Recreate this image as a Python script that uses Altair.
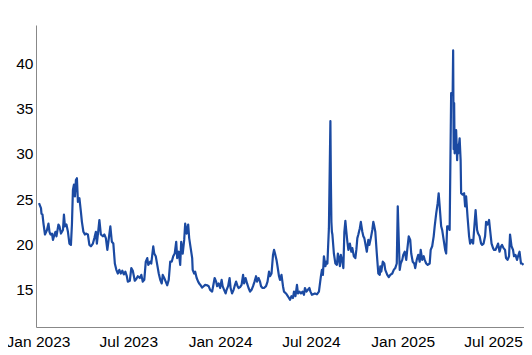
import altair as alt
import pandas as pd

dates = [
    "2022-12-30", "2023-01-03", "2023-01-04", "2023-01-06", "2023-01-08", "2023-01-11", "2023-01-15", "2023-01-18",
    "2023-01-20", "2023-01-22", "2023-01-25", "2023-01-27", "2023-01-30", "2023-02-01", "2023-02-03", "2023-02-07",
    "2023-02-09", "2023-02-12", "2023-02-16", "2023-02-18", "2023-02-20", "2023-02-23", "2023-02-26", "2023-03-01",
    "2023-03-04", "2023-03-06", "2023-03-08", "2023-03-10", "2023-03-12", "2023-03-14", "2023-03-16", "2023-03-18",
    "2023-03-21", "2023-03-24", "2023-03-26", "2023-03-29", "2023-04-01", "2023-04-03", "2023-04-07", "2023-04-10",
    "2023-04-13", "2023-04-17", "2023-04-20", "2023-04-23", "2023-04-25", "2023-04-28", "2023-04-30", "2023-05-03",
    "2023-05-07", "2023-05-10", "2023-05-13", "2023-05-16", "2023-05-19", "2023-05-22", "2023-05-25", "2023-05-28",
    "2023-05-31", "2023-06-03", "2023-06-06", "2023-06-09", "2023-06-12", "2023-06-15", "2023-06-18", "2023-06-21",
    "2023-06-24", "2023-06-26", "2023-06-30", "2023-07-03", "2023-07-06", "2023-07-10", "2023-07-13", "2023-07-16",
    "2023-07-20", "2023-07-23", "2023-07-26", "2023-07-29", "2023-08-01", "2023-08-04", "2023-08-06", "2023-08-10",
    "2023-08-12", "2023-08-16", "2023-08-18", "2023-08-21", "2023-08-24", "2023-08-27", "2023-08-30", "2023-09-02",
    "2023-09-04", "2023-09-07", "2023-09-10", "2023-09-13", "2023-09-16", "2023-09-19", "2023-09-22", "2023-09-25",
    "2023-09-28", "2023-10-01", "2023-10-03", "2023-10-06", "2023-10-09", "2023-10-11", "2023-10-14", "2023-10-17",
    "2023-10-19", "2023-10-22", "2023-10-25", "2023-10-27", "2023-10-30", "2023-11-02", "2023-11-03", "2023-11-06",
    "2023-11-08", "2023-11-11", "2023-11-14", "2023-11-16", "2023-11-19", "2023-11-22", "2023-11-25", "2023-11-28",
    "2023-12-02", "2023-12-05", "2023-12-08", "2023-12-12", "2023-12-14", "2023-12-17", "2023-12-20", "2023-12-22",
    "2023-12-25", "2023-12-28", "2023-12-31", "2024-01-02", "2024-01-05", "2024-01-08", "2024-01-10", "2024-01-13",
    "2024-01-16", "2024-01-18", "2024-01-21", "2024-01-24", "2024-01-26", "2024-01-29", "2024-02-01", "2024-02-03",
    "2024-02-06", "2024-02-09", "2024-02-12", "2024-02-14", "2024-02-17", "2024-02-20", "2024-02-23", "2024-02-26",
    "2024-02-29", "2024-03-03", "2024-03-06", "2024-03-09", "2024-03-11", "2024-03-14", "2024-03-17", "2024-03-19",
    "2024-03-22", "2024-03-25", "2024-03-29", "2024-04-01", "2024-04-04", "2024-04-06", "2024-04-09", "2024-04-12",
    "2024-04-14", "2024-04-16", "2024-04-19", "2024-04-21", "2024-04-24", "2024-04-26", "2024-04-29", "2024-05-02",
    "2024-05-04", "2024-05-08", "2024-05-10", "2024-05-14", "2024-05-16", "2024-05-19", "2024-05-22", "2024-05-24",
    "2024-05-27", "2024-05-30", "2024-06-01", "2024-06-04", "2024-06-07", "2024-06-10", "2024-06-13", "2024-06-15",
    "2024-06-18", "2024-06-21", "2024-06-24", "2024-06-26", "2024-06-29", "2024-07-05", "2024-07-09", "2024-07-13",
    "2024-07-17", "2024-07-19", "2024-07-21", "2024-07-23", "2024-07-26", "2024-07-28", "2024-07-30", "2024-08-02",
    "2024-08-05", "2024-08-06", "2024-08-07", "2024-08-08", "2024-08-09", "2024-08-12", "2024-08-15", "2024-08-18",
    "2024-08-20", "2024-08-22", "2024-08-24", "2024-08-26", "2024-08-29", "2024-08-31", "2024-09-02", "2024-09-04",
    "2024-09-06", "2024-09-08", "2024-09-10", "2024-09-13", "2024-09-16", "2024-09-18", "2024-09-21", "2024-09-24",
    "2024-09-26", "2024-09-28", "2024-09-30", "2024-10-03", "2024-10-05", "2024-10-08", "2024-10-10", "2024-10-12",
    "2024-10-14", "2024-10-17", "2024-10-20", "2024-10-22", "2024-10-25", "2024-10-28", "2024-10-30", "2024-11-01",
    "2024-11-03", "2024-11-06", "2024-11-09", "2024-11-12", "2024-11-13", "2024-11-15", "2024-11-18", "2024-11-21",
    "2024-11-23", "2024-11-27", "2024-11-30", "2024-12-03", "2024-12-07", "2024-12-10", "2024-12-13", "2024-12-16",
    "2024-12-18", "2024-12-20", "2024-12-22", "2024-12-24", "2024-12-27", "2024-12-29", "2025-01-01", "2025-01-04",
    "2025-01-06", "2025-01-09", "2025-01-12", "2025-01-14", "2025-01-17", "2025-01-20", "2025-01-22", "2025-01-25",
    "2025-01-28", "2025-01-31", "2025-02-02", "2025-02-05", "2025-02-08", "2025-02-10", "2025-02-13", "2025-02-16",
    "2025-02-20", "2025-02-22", "2025-02-25", "2025-02-28", "2025-03-02", "2025-03-05", "2025-03-08", "2025-03-10",
    "2025-03-12", "2025-03-15", "2025-03-17", "2025-03-20", "2025-03-23", "2025-03-25", "2025-03-27", "2025-03-29",
    "2025-04-01", "2025-04-04", "2025-04-07", "2025-04-08", "2025-04-09", "2025-04-10", "2025-04-11", "2025-04-14",
    "2025-04-16", "2025-04-17", "2025-04-18", "2025-04-21", "2025-04-23", "2025-04-24", "2025-04-27", "2025-04-30",
    "2025-05-02", "2025-05-04", "2025-05-07", "2025-05-10", "2025-05-12", "2025-05-15", "2025-05-18", "2025-05-20",
    "2025-05-23", "2025-05-26", "2025-05-28", "2025-05-31", "2025-06-03", "2025-06-05", "2025-06-08", "2025-06-11",
    "2025-06-13", "2025-06-16", "2025-06-19", "2025-06-21", "2025-06-24", "2025-06-27", "2025-06-29", "2025-07-02",
    "2025-07-05", "2025-07-07", "2025-07-10", "2025-07-13", "2025-07-15", "2025-07-18", "2025-07-21", "2025-07-23",
    "2025-07-26", "2025-07-29", "2025-07-31", "2025-08-03", "2025-08-06", "2025-08-08", "2025-08-11", "2025-08-14",
    "2025-08-16", "2025-08-19", "2025-08-22", "2025-08-24", "2025-08-27",
]

values = [
    24.55, 24.0, 23.4, 23.3, 22.3, 21.1, 21.6, 22.3,
    21.4, 21.1, 21.2, 20.5, 21.1, 21.4, 20.9, 22.2,
    22.0, 21.2, 21.6, 23.3, 22.0, 22.2, 21.4, 20.1,
    19.95, 22.2, 26.0, 26.6, 25.3, 27.1, 27.3, 24.7,
    25.1, 23.6, 22.5, 21.4, 21.1, 21.2, 21.1, 19.95,
    19.8, 20.1, 20.7, 21.4, 20.1, 21.6, 22.7, 21.1,
    20.9, 21.1, 20.7, 19.4, 20.7, 22.0, 20.3, 20.1,
    17.9, 17.2, 16.8, 17.2, 16.8, 17.1, 16.7, 17.0,
    16.5, 15.9, 16.0, 17.4, 17.1, 16.0, 16.2, 16.5,
    16.3, 16.65, 15.9, 16.1, 18.1, 18.5, 17.75, 18.1,
    17.9, 19.8, 19.0, 18.7, 17.75, 16.8, 16.1, 15.7,
    16.65, 16.3, 15.9, 15.5, 16.1, 18.1, 18.1, 18.7,
    19.0, 20.3, 18.5, 19.2, 17.75, 20.3, 19.0, 20.5,
    22.3, 21.2, 22.2, 20.7, 19.6, 18.5, 17.2, 16.8,
    17.0, 16.3, 15.9, 15.7, 15.5, 15.25, 15.4, 15.55,
    15.5, 15.4, 15.0, 14.8, 15.4, 16.3, 15.9, 15.4,
    15.7, 15.2, 16.1, 15.4, 15.0, 14.6, 15.0, 15.4,
    16.3, 15.2, 14.6, 15.0, 15.4, 15.9, 15.4, 15.2,
    15.3, 15.55, 16.65, 15.7, 16.3, 15.7, 15.2, 14.8,
    15.0, 15.4, 15.9, 16.5, 15.9, 16.3, 15.9, 15.4,
    15.2, 15.2, 15.4, 15.9, 17.0, 16.5, 16.8, 18.85,
    19.4, 19.0, 18.3, 17.6, 16.5, 16.1, 16.65, 15.4,
    14.8, 14.6, 14.45, 14.1, 13.9, 14.3, 14.1, 14.8,
    14.3, 15.55, 14.6, 14.8, 14.6, 14.8, 14.45, 15.2,
    14.8, 15.0, 15.2, 14.8, 14.45, 14.6, 14.5, 14.8,
    16.5, 17.2, 16.65, 18.7, 17.6, 18.1, 17.9, 21.8,
    33.6, 26.9, 22.5, 21.4, 21.1, 19.0, 17.9, 17.75,
    19.0, 18.5, 17.6, 18.85, 18.1, 17.4, 21.4, 22.6,
    21.4, 20.3, 19.4, 20.1, 19.2, 19.6, 18.7, 18.5,
    19.4, 20.7, 21.1, 21.8, 22.5, 21.4, 20.9, 20.7,
    20.1, 19.2, 20.5, 19.95, 20.7, 21.6, 22.5, 22.0,
    21.4, 19.0, 16.8, 16.65, 17.6, 17.0, 18.1, 17.9,
    17.2, 16.65, 16.4, 16.65, 16.8, 17.2, 17.4, 17.9,
    24.2, 20.5, 17.2, 17.9, 18.3, 18.85, 19.2, 18.3,
    19.4, 20.9, 20.5, 19.0, 18.1, 17.9, 17.4, 18.3,
    18.85, 18.1, 19.4, 18.3, 18.7, 18.3, 17.9, 17.75,
    17.9, 19.4, 19.8, 20.9, 22.0, 23.4, 24.55, 25.65,
    24.2, 22.0, 21.6, 20.5, 19.4, 19.0, 22.0, 22.0,
    21.6, 36.7, 36.5, 41.4, 30.5, 35.6, 30.05, 32.6,
    29.3, 31.0, 30.05, 31.7, 29.3, 25.65, 25.5, 25.65,
    24.2, 25.3, 22.95, 20.9, 20.1, 20.5, 20.1, 21.6,
    23.8, 21.6, 21.2, 20.9, 20.1, 19.95, 20.1, 20.9,
    22.5, 22.2, 22.7, 21.6, 20.1, 19.6, 19.4, 19.4,
    19.8, 20.1, 19.2, 19.8, 19.95, 19.6, 19.4, 18.5,
    18.3, 18.7, 21.1, 19.8, 19.4, 18.7, 18.85, 18.3,
    18.7, 19.2, 17.9, 17.9, 17.75,
]

x_ticks = ["2023-01-01", "2023-07-01", "2024-01-01", "2024-07-01", "2025-01-01", "2025-07-01"]
y_ticks = [15, 20, 25, 30, 35, 40]

df = pd.DataFrame({"date": pd.to_datetime(dates), "value": values})

x_tick_ts = [alt.DateTime(year=int(d[:4]), month=int(d[5:7]), date=1) for d in x_ticks]

chart = (
    alt.Chart(df)
    .mark_line(color="#1b4aa2", strokeWidth=2.2, strokeJoin="round")
    .encode(
        x=alt.X(
            "date:T",
            scale=alt.Scale(
                domain=[
                    alt.DateTime(year=2022, month=12, date=24),
                    alt.DateTime(year=2025, month=8, date=28),
                ]
            ),
            axis=alt.Axis(
                values=x_tick_ts,
                format="%b %Y",
                title=None,
                ticks=False,
                grid=False,
                labelPadding=7,
                labelOffset=-2,
                labelFontSize=15.5,
                labelFont="Liberation Sans",
                labelColor="#000000",
                domainColor="#888888",
                labelFlush=False,
            ),
        ),
        y=alt.Y(
            "value:Q",
            scale=alt.Scale(domain=[10.9, 44.2], zero=False, nice=False),
            axis=alt.Axis(
                values=y_ticks,
                title=None,
                ticks=False,
                grid=False,
                labelPadding=3,
                labelFontSize=15.5,
                labelFont="Liberation Sans",
                labelColor="#000000",
                domainColor="#888888",
            ),
        ),
    )
    .properties(
        width=488,
        height=302,
        autosize=alt.AutoSizeParams(type="none"),
        padding={"left": 28, "top": 17, "right": 0, "bottom": 28},
    )
    .configure_view(stroke=None)
    .configure_axis(domainWidth=1)
)

chart.save("out.html", embed_options={"renderer": "svg", "actions": False})
